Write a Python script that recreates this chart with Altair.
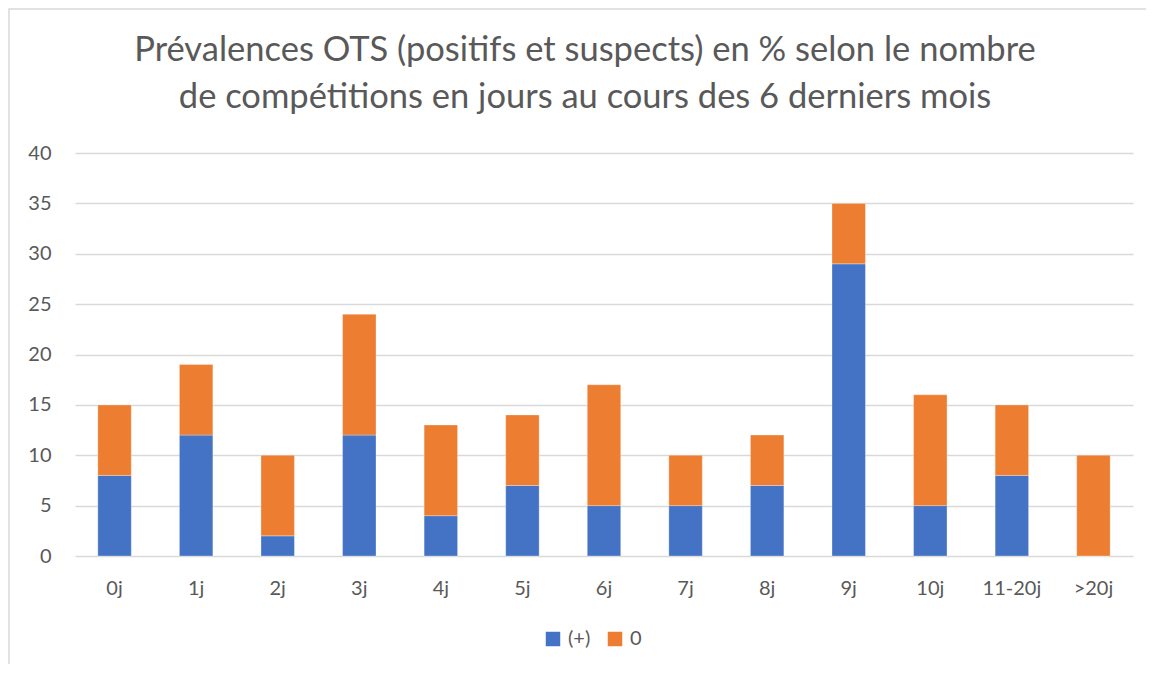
import altair as alt
import pandas as pd

categories = ["0j", "1j", "2j", "3j", "4j", "5j", "6j", "7j", "8j", "9j", "10j", "11-20j", ">20j"]
positifs = [8, 12, 2, 12, 4, 7, 5, 5, 7, 29, 5, 8, 0]
zero = [7, 7, 8, 12, 9, 7, 12, 5, 5, 6, 11, 7, 10]
series_names = ["(+)", "0"]
colors = ["#4472C4", "#ED7D31"]
title_lines = ["Prévalences OTS (positifs et suspects) en % selon le nombre",
               "de compétitions en jours au cours des 6 derniers mois"]

rows = []
for c, p, z in zip(categories, positifs, zero):
    rows.append({"cat": c, "serie": series_names[0], "val": p, "ord": 0})
    rows.append({"cat": c, "serie": series_names[1], "val": z, "ord": 1})
df = pd.DataFrame(rows)

FONT = "Lato"
GREY = "#595959"
W, H = 1058, 403

bars = alt.Chart(df).mark_bar(stroke="#ffffff", strokeWidth=0.6, strokeOpacity=0.5).encode(
    x=alt.X("cat:N", sort=categories, title=None,
            scale=alt.Scale(paddingInner=0.59, paddingOuter=0.28),
            axis=alt.Axis(labelAngle=0, ticks=False, domain=False, labelPadding=22,
                          labelFontSize=20, labelColor=GREY, labelFont=FONT)),
    y=alt.Y("val:Q", stack="zero", title=None,
            scale=alt.Scale(domain=[0, 40], nice=False),
            axis=alt.Axis(values=[0, 5, 10, 15, 20, 25, 30, 35, 40], ticks=False, domain=False,
                          labelPadding=24, labelFontSize=20, labelColor=GREY, labelFont=FONT,
                          gridColor="#d9d9d9", gridWidth=1.5)),
    color=alt.Color("serie:N", scale=alt.Scale(domain=series_names, range=colors),
                    legend=alt.Legend(title=None, orient="none", direction="horizontal",
                                      legendX=468, legendY=476,
                                      symbolType="square", symbolSize=210, symbolStrokeWidth=0,
                                      labelFontSize=20, labelColor=GREY, labelFont=FONT,
                                      columnPadding=14, labelOffset=5)),
    order=alt.Order("ord:Q"),
)

border = alt.Chart(alt.Data(values=[{}])).mark_rect(
    fill=None, stroke="#d9d9d9", strokeWidth=1.5
).encode(
    x=alt.value(-66), x2=alt.value(1120), y=alt.value(-144), y2=alt.value(600)
)

title_layers = []
for line, ypos in zip(title_lines, [-92, -45]):
    title_layers.append(
        alt.Chart(alt.Data(values=[{"t": line}])).mark_text(
            font=FONT, fontSize=34.5, color=GREY, align="center", baseline="alphabetic"
        ).encode(text="t:N", x=alt.value(W / 2 - 19), y=alt.value(ypos))
    )

chart = alt.layer(border, *title_layers, bars).properties(
    width=W, height=H,
    autosize=alt.AutoSizeParams(type="none"),
    padding={"left": 67, "top": 145, "right": 13, "bottom": 108},
).configure(background="white").configure_view(stroke=None)

chart.save("out.html", embed_options={"renderer": "svg", "actions": False})
